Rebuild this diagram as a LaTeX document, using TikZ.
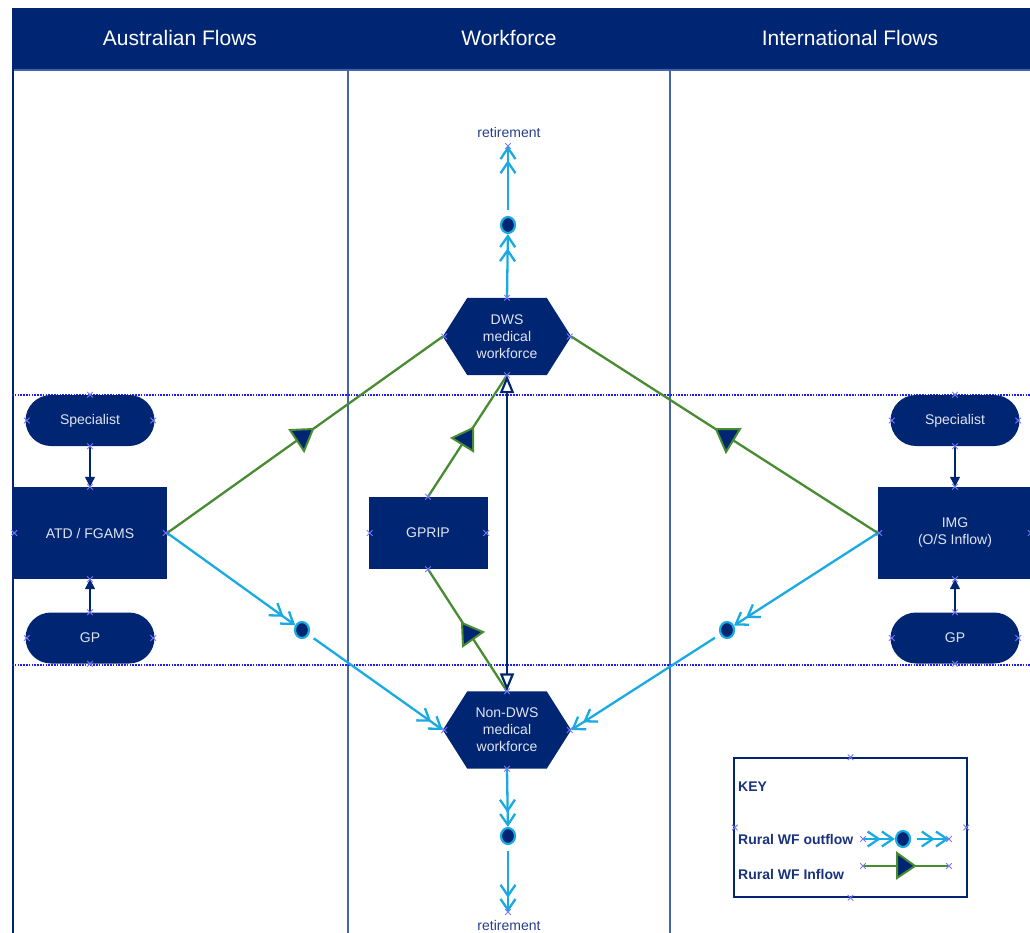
\documentclass[tikz,border=0pt]{standalone}
\usepackage{fontspec}
\setmainfont{Liberation Sans}
\usetikzlibrary{arrows.meta,shapes.geometric}
\pgfdeclarelayer{background}
\pgfsetlayers{background,main}
\definecolor{navy}{RGB}{0,38,115}
\definecolor{lanec}{RGB}{70,100,170}
\definecolor{dotc}{RGB}{30,30,245}
\definecolor{greenc}{RGB}{72,140,50}
\definecolor{cyanc}{RGB}{25,170,225}
\definecolor{txtc}{RGB}{225,228,240}
\definecolor{rettxt}{RGB}{40,62,140}
\definecolor{keytxt}{RGB}{25,50,125}
\definecolor{markc}{RGB}{120,120,255}
\tikzset{
  xm/.pic={\draw[markc, line width=0.9pt] (-2.8,-2.8) -- (2.8,2.8) (-2.8,2.8) -- (2.8,-2.8);}
}
\begin{document}
\begin{tikzpicture}[x=1pt,y=-1pt,
  hdr/.style={text=white, font=\fontsize{21}{25}\selectfont, inner sep=0pt},
  boxtext/.style={text=txtc, font=\fontsize{14}{17}\selectfont, align=center, inner sep=0pt},
  stadium/.style={boxtext, fill=navy, rounded corners=25.5pt, minimum width=129pt, minimum height=51pt},
  bigrect/.style={boxtext, fill=navy, minimum width=154pt, minimum height=92pt},
  gprect/.style={boxtext, fill=navy, minimum width=119pt, minimum height=72pt},
  hexnode/.style={boxtext, minimum width=128pt, minimum height=77pt},
  dotnode/.style={ellipse, fill=navy, draw=cyanc, line width=2.2pt, minimum width=14pt, minimum height=16pt, inner sep=0pt},
  outflow/.style={draw=cyanc, line width=2.3pt, -{Straight Barb[length=11pt,width=15pt] Straight Barb[length=11pt,width=15pt]}},
  inflow/.style={draw=greenc, line width=2.3pt},
  tri/.style={fill=navy, draw=greenc, line width=2pt, line join=miter},
  feed/.style={draw=navy, line width=1.2pt, -{Triangle[length=10pt,width=10pt]}},
  link/.style={draw=navy, line width=2.2pt, {Triangle[length=18pt,width=14pt,fill=white]}-{Triangle[length=18pt,width=14pt,fill=white]}},
  lane/.style={draw=lanec, line width=2pt},
  dotline/.style={draw=dotc, line width=1.3pt, dash pattern=on 1.5pt off 1.3pt},
  rettext/.style={text=rettxt, font=\fontsize{14}{17}\selectfont, inner sep=0pt},
  keyt/.style={text=keytxt, font=\fontsize{14}{17}\selectfont\bfseries, inner sep=0pt, anchor=west},
  keybox/.style={draw=navy, line width=1.3pt, minimum width=233pt, minimum height=139pt}
]
\useasboundingbox (0,0) rectangle (1030,933);

% header and lanes
\begin{pgfonlayer}{background}
\fill[navy] (12,8) rectangle (1030,70);
\draw[lane] (12,70.5) -- (1030,70.5);
\draw[lane] (348,70) -- (348,933);
\draw[lane] (670,70) -- (670,933);
\draw[draw=navy, line width=2.5pt] (13,8) -- (13,933);
\draw[dotline] (12,395) -- (1030,395);
\draw[dotline] (12,665) -- (1030,665);
\end{pgfonlayer}
\node[hdr] (h1) at (180,38) {Australian Flows};
\node[hdr] (h2) at (509,38) {Workforce};
\node[hdr] (h3) at (850,38) {International Flows};

% workforce nodes
\node[hexnode] (dws) at (507,336.5) {DWS\\medical\\workforce};
\node[hexnode] (ndws) at (507,730) {Non-DWS\\medical\\workforce};
\begin{pgfonlayer}{background}
\foreach \n in {dws,ndws}{
\fill[navy] (\n.west) -- ([xshift=24.5pt]\n.north west) -- ([xshift=-24.5pt]\n.north east) -- (\n.east) -- ([xshift=-24.5pt]\n.south east) -- ([xshift=24.5pt]\n.south west) -- cycle;
}
\end{pgfonlayer}
\node[gprect] (gprip) at (428,533) {GPRIP};
\node[rettext] (ret1) at (509,132) {retirement};
\coordinate (ret1c) at (508,146);
\node[rettext] (ret2) at (509,925) {retirement};
\coordinate (ret2c) at (508,912);
\node[dotnode] (dot1) at (508,225) {};
\node[dotnode] (dot2) at (508,836) {};

% Australian side
\node[stadium] (specL) at (90,420.5) {Specialist};
\node[bigrect] (atd) at (90,533) {ATD / FGAMS};
\node[stadium] (gpL) at (90,638) {GP};
\node[dotnode] (dotL) at (302,630) {};

% International side
\node[stadium] (specR) at (955,420.5) {Specialist};
\node[bigrect] (img) at (955,533) {IMG\\(O/S Inflow)};
\node[stadium] (gpR) at (955,638) {GP};
\node[dotnode] (dotR) at (727,630) {};

% feeders
\draw[feed] (specL.south) -- (atd.north);
\draw[feed] (gpL.north) -- (atd.south);
\draw[feed] (specR.south) -- (img.north);
\draw[feed] (gpR.north) -- (img.south);

% outflows
\draw[outflow] (dws.north) -- (dot1);
\draw[outflow, shorten <=6pt] (dot1) -- (ret1c);
\draw[outflow] (ndws.south) -- (dot2);
\draw[outflow, shorten <=6pt] (dot2) -- (ret2c);
\draw[outflow] (atd.east) -- (dotL);
\draw[outflow, shorten <=6pt] (dotL) -- (ndws.west);
\draw[outflow] (img.west) -- (dotR);
\draw[outflow, shorten <=6pt] (dotR) -- (ndws.east);

% inflows
\draw[inflow] (atd.east) -- (dws.west);
\filldraw[tri] (290,430) -- (313,429) -- (304,451) -- cycle;
\draw[inflow] (img.west) -- (dws.east);
\filldraw[tri] (716,429) -- (740,429) -- (726,452) -- cycle;
\draw[inflow] (gprip.north) -- (dws.south);
\filldraw[tri] (452,438) -- (473,428) -- (473,451) -- cycle;
\draw[inflow] (gprip.south) -- (ndws.north);
\filldraw[tri] (462,623) -- (483,632) -- (463,646) -- cycle;

% link between workforces
\draw[link] (dws.south) -- (ndws.north);

% key
\node[keybox] (keyb) at (850.5,827.5) {};
\node[keyt] (keyl) at (738,787) {KEY};
\node[keyt] (kout) at (738,839) {Rural WF outflow};
\node[keyt] (kin) at (738,874) {Rural WF Inflow};
\coordinate (ko1) at (863,839);
\coordinate (ko2) at (949,839);
\node[dotnode] (kdot) at (903,839) {};
\draw[outflow] (ko1) -- (kdot);
\draw[outflow, shorten <=6pt] (kdot) -- (ko2);
\coordinate (ki1) at (863,866);
\coordinate (ki2) at (949,866);
\draw[inflow] (ki1) -- (ki2);
\filldraw[tri] (897,853) -- (915,866) -- (897,878) -- cycle;

% connection markers
\foreach \n in {dws,ndws,gprip,specL,atd,gpL,specR,img,gpR,keyb}{
  \pic at (\n.north) {xm};
  \pic at (\n.south) {xm};
  \pic at ([xshift=1.5pt]\n.west) {xm};
  \pic at ([xshift=-1.5pt]\n.east) {xm};
}
\foreach \c in {ret1c,ret2c,ko1,ko2,ki1,ki2}{
  \pic at (\c) {xm};
}
\end{tikzpicture}
\end{document}
